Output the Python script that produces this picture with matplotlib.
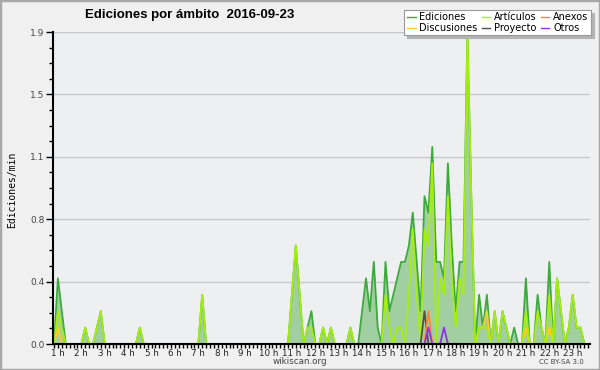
# Ediciones por ámbito - wikiscan style area chart
import matplotlib.pyplot as plt
import numpy as np
from matplotlib.patches import Rectangle
from matplotlib.lines import Line2D
from matplotlib.ticker import FixedLocator, MultipleLocator

# 10-minute bins, first bin at 00:50
start_min = 50
bin_min = 10

# edits per minute, one value per bin (12 bins per row)
ediciones = [
    0, 0.4, 0.2, 0, 0, 0, 0, 0, 0.1, 0, 0, 0.1,
    0.2, 0, 0, 0, 0, 0, 0, 0, 0, 0, 0.1, 0,
    0, 0, 0, 0, 0, 0, 0, 0, 0, 0, 0, 0,
    0, 0, 0.3, 0, 0, 0, 0, 0, 0, 0, 0, 0,
    0, 0, 0, 0, 0, 0, 0, 0, 0, 0, 0, 0,
    0, 0.3, 0.6, 0.3, 0, 0.1, 0.2, 0, 0, 0.1, 0, 0.1,
    0, 0, 0, 0, 0.1, 0, 0, 0.2, 0.4, 0.2, 0.5, 0.1,
    0, 0.5, 0.2, 0.3, 0.4, 0.5, 0.5, 0.6, 0.8, 0.5, 0.2, 0.9,
    0.8, 1.2, 0.5, 0.5, 0.4, 1.1, 0.6, 0.2, 0.5, 0.5, 1.9, 0.9,
    0, 0.3, 0.1, 0.3, 0, 0.2, 0, 0.2, 0.1, 0, 0.1, 0,
    0, 0.4, 0, 0, 0.3, 0.1, 0, 0.5, 0, 0.4, 0.2, 0,
    0.1, 0.3, 0.1, 0.1, 0, 0,
]
articulos = [
    0, 0.2, 0.1, 0, 0, 0, 0, 0, 0.1, 0, 0, 0.1,
    0.2, 0, 0, 0, 0, 0, 0, 0, 0, 0, 0.1, 0,
    0, 0, 0, 0, 0, 0, 0, 0, 0, 0, 0, 0,
    0, 0, 0.3, 0, 0, 0, 0, 0, 0, 0, 0, 0,
    0, 0, 0, 0, 0, 0, 0, 0, 0, 0, 0, 0,
    0, 0.3, 0.6, 0.3, 0, 0.1, 0.1, 0, 0, 0.1, 0, 0.1,
    0, 0, 0, 0, 0.1, 0, 0, 0, 0, 0, 0, 0,
    0, 0.3, 0.1, 0, 0.1, 0.1, 0, 0.3, 0.7, 0.3, 0, 0.7,
    0.6, 1.1, 0, 0.4, 0.3, 0.9, 0.4, 0.1, 0.4, 0.3, 1.9, 0.9,
    0, 0.1, 0.1, 0.1, 0, 0.2, 0, 0.2, 0.1, 0, 0, 0,
    0, 0.2, 0, 0, 0.2, 0.1, 0, 0.3, 0, 0.4, 0.2, 0,
    0.1, 0.3, 0.1, 0.1, 0, 0,
]
# smaller namespaces: only the non-zero bins
discusiones = {"01:00": 0.1, "16:50": 0.2, "19:00": 0.1, "19:10": 0.1,
               "19:20": 0.2, "21:00": 0.1, "22:00": 0.1}
proyecto = {"16:40": 0.2}
anexos = {"16:50": 0.2}
otros = {"16:50": 0.1, "17:30": 0.1}

ytick_labels = ["0.0", "0.4", "0.8", "1.1", "1.5", "1.9"]
hour_labels = ["%d h" % h for h in range(1, 24)]

n = len(ediciones)
hours = (start_min + bin_min * np.arange(n)) / 60.0


def to_series(d):
    out = np.zeros(n)
    for k, v in d.items():
        hh, mm = k.split(":")
        idx = (int(hh) * 60 + int(mm) - start_min) // bin_min
        out[idx] = v
    return out


fig = plt.figure(figsize=(6, 3.7), dpi=100, facecolor="#f0f0f0")
fig.patches.append(Rectangle((0, 0), 1, 1, transform=fig.transFigure,
                             fill=False, edgecolor="#a8a8a8", lw=2.5))
ax = fig.add_axes([53 / 600, 26 / 370, 537 / 600, 312 / 370])
ax.set_facecolor("#eeeff1")

ax.fill_between(hours, ediciones, color="#a2cfa2", lw=0, zorder=1)
series = [
    ("Ediciones", ediciones, "#3daa3d"),
    ("Discusiones", to_series(discusiones), "#ffcc22"),
    ("Artículos", articulos, "#a6ee10"),
    ("Proyecto", to_series(proyecto), "#505050"),
    ("Anexos", to_series(anexos), "#ff8040"),
    ("Otros", to_series(otros), "#9030e8"),
]
draw_order = [0, 2, 1, 3, 4, 5]
for k in draw_order:
    name, vals, col = series[k]
    ax.plot(hours, vals, color=col, lw=1.3, zorder=2 + k * 0.01)

ymax = 1.9
ax.set_ylim(0, ymax)
ax.set_xlim(0.79, 23.74)
ax.yaxis.set_major_locator(FixedLocator([ymax * k / 5 for k in range(6)]))
ax.set_yticklabels(ytick_labels)
ax.yaxis.set_minor_locator(MultipleLocator(ymax / 20))
ax.set_xticks(range(1, 24))
ax.set_xticklabels(hour_labels)
ax.xaxis.set_minor_locator(MultipleLocator(1 / 6))
ax.grid(axis="y", which="major", color="#c8c8c8", lw=1)
ax.set_axisbelow(True)

for s in ["top", "right"]:
    ax.spines[s].set_visible(False)
for s in ["left", "bottom"]:
    ax.spines[s].set_linewidth(1.5)
    ax.spines[s].set_zorder(5)
ax.tick_params(axis="y", which="major", length=5, width=1, labelsize=6.5,
               labelcolor="#444444", pad=1)
ax.tick_params(axis="y", which="minor", length=3, width=1)
ax.tick_params(axis="x", which="both", length=3, width=1, labelsize=6.3,
               labelcolor="#222222", pad=0.5)

handles = [Line2D([], [], color=c, lw=1) for _, _, c in series]
labels = [s[0] for s in series]
leg = fig.legend(handles, labels, ncol=3, loc="upper right",
                 bbox_to_anchor=(591 / 600, 1 - 10 / 370), fontsize=7,
                 frameon=True, fancybox=False,
                 shadow={"color": "#b4b4b4", "alpha": 1},
                 handlelength=0.9, handletextpad=0.4, columnspacing=0.4,
                 labelspacing=0.05, borderpad=0.25, borderaxespad=0)
leg.get_frame().set_edgecolor("#999999")
leg.get_frame().set_linewidth(0.8)

fig.text(85 / 600, 1 - 15 / 370, "Ediciones por ámbito  2016-09-23",
         family="Liberation Sans", fontsize=9.5, fontweight="bold",
         ha="left", va="center")
fig.text(12 / 600, 1 - 190 / 370, "Ediciones/min", rotation=90,
         family="DejaVu Sans Mono", fontsize=7, ha="center", va="center")
fig.text(300 / 600, 1 - 362 / 370, "wikiscan.org", fontsize=6.3,
         color="#444444", ha="center", va="center")
fig.text(561 / 600, 1 - 362 / 370, "CC BY-SA 3.0", fontsize=5,
         color="#444444", ha="center", va="center")

fig.savefig("out.png", dpi=100, facecolor=fig.get_facecolor())
